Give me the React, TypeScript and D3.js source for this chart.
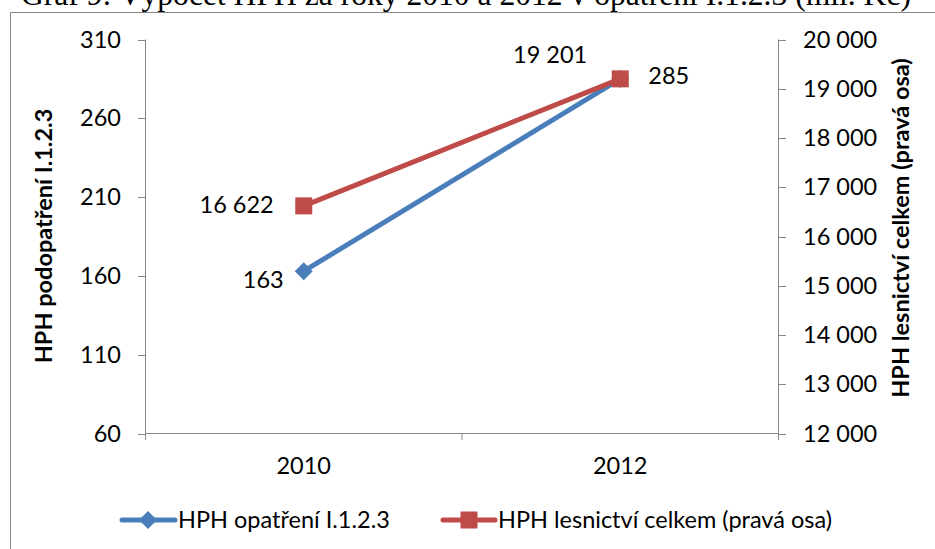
import React from "react";
import * as d3 from "d3";

const categories = ["2010", "2012"];
const seriesLeftName = "HPH opatření I.1.2.3";
const seriesRightName = "HPH lesnictví celkem (pravá osa)";
const leftValues = [163, 285];
const rightValues = [16622, 19201];
const leftTicks = [60, 110, 160, 210, 260, 310];
const rightTicks = [12000, 13000, 14000, 15000, 16000, 17000, 18000, 19000, 20000];
const title = "Graf 9: Výpočet HPH za roky 2010 a 2012 v opatření I.1.2.3 (mil. Kč)";
const leftAxisTitle = "HPH podopatření I.1.2.3";
const rightAxisTitle = "HPH lesnictví celkem (pravá osa)";

const W = 935;
const H = 549;
const FONT = "Lato, 'Open Sans', sans-serif";
const FS = 23.5;
const AXIS = "#868686";
const BLUE = "#4a7ebb";
const RED = "#be4b48";

const fmt = (v: number) => {
  const s = Math.round(v).toString();
  return s.replace(/\B(?=(\d{3})+(?!\d))/g, " ");
};

export default function App() {
  const x = d3.scaleBand<string>().domain(categories).range([145.5, 778.5]);
  const cx = (c: string) => (x(c) as number) + x.bandwidth() / 2;
  const yL = d3.scaleLinear().domain([60, 310]).range([433.5, 39.5]);
  const yR = d3.scaleLinear().domain([12000, 20000]).range([433.5, 39.5]);

  const lineL = d3
    .line<number>()
    .x((_, i) => cx(categories[i]))
    .y((d) => yL(d));
  const lineR = d3
    .line<number>()
    .x((_, i) => cx(categories[i]))
    .y((d) => yR(d));

  const xTicks = [145.5, ...categories.map((c) => (x(c) as number) + x.bandwidth())];

  const diamond = (px: number, py: number, r: number) =>
    `M${px},${py - r}L${px + r},${py}L${px},${py + r}L${px - r},${py}Z`;

  const leftLabelOffsets = [
    { dx: -20, dy: 17, anchor: "end" },
    { dx: 28, dy: 5, anchor: "start" },
  ];
  const rightLabelOffsets = [
    { dx: -30, dy: 7, anchor: "end" },
    { dx: -33, dy: -16, anchor: "end" },
  ];

  return (
    <svg
      width={W}
      height={H}
      style={{ position: "absolute", left: 0, top: 0, background: "#fff" }}
      fontFamily={FONT}
    >
      <rect x={0} y={0} width={W} height={H} fill="#fff" />
      <text x={21} y={5} fontFamily="'Liberation Serif', 'Times New Roman', serif" fontSize={31.6} fill="#000">
        {title}
      </text>
      <path d={`M10.5,${H + 5}V12.5H${W + 5}`} fill="none" stroke={AXIS} strokeWidth={1} />

      <line x1={145.5} x2={145.5} y1={yL(310)} y2={yL(60)} stroke={AXIS} />
      {leftTicks.map((t) => (
        <g key={"l" + t}>
          <line x1={138} x2={145.5} y1={Math.round(yL(t)) + 0.5} y2={Math.round(yL(t)) + 0.5} stroke={AXIS} />
          <text x={121} y={yL(t) + 8} textAnchor="end" fontSize={FS} fill="#000">
            {t}
          </text>
        </g>
      ))}
      <line x1={778.5} x2={778.5} y1={yR(20000)} y2={yR(12000)} stroke={AXIS} />
      {rightTicks.map((t) => (
        <g key={"r" + t}>
          <line x1={778.5} x2={786} y1={Math.round(yR(t)) + 0.5} y2={Math.round(yR(t)) + 0.5} stroke={AXIS} />
          <text x={803} y={yR(t) + 8} textAnchor="start" fontSize={FS} fill="#000">
            {fmt(t)}
          </text>
        </g>
      ))}
      <line x1={145.5} x2={778.5} y1={433.5} y2={433.5} stroke={AXIS} />
      {xTicks.map((t, i) => (
        <line key={"xt" + i} x1={t} x2={t} y1={433.5} y2={440} stroke={AXIS} />
      ))}
      {categories.map((c) => (
        <text key={c} x={cx(c)} y={474} textAnchor="middle" fontSize={FS} fill="#000">
          {c}
        </text>
      ))}

      <text
        transform={`translate(52,236) rotate(-90)`}
        textAnchor="middle"
        fontSize={FS}
        fontWeight="bold"
        fill="#000"
      >
        {leftAxisTitle}
      </text>
      <text
        transform={`translate(909,228) rotate(-90)`}
        textAnchor="middle"
        fontSize={FS}
        fontWeight="bold"
        fill="#000"
      >
        {rightAxisTitle}
      </text>

      <path d={lineL(leftValues) || ""} fill="none" stroke={BLUE} strokeWidth={5} strokeLinejoin="round" />
      <path d={lineR(rightValues) || ""} fill="none" stroke={RED} strokeWidth={5} strokeLinejoin="round" />
      {leftValues.map((v, i) => (
        <path key={"dm" + i} d={diamond(cx(categories[i]), yL(v), 9)} fill={BLUE} />
      ))}
      {rightValues.map((v, i) => (
        <rect key={"sq" + i} x={cx(categories[i]) - 8.5} y={yR(v) - 8.5} width={17} height={17} fill={RED} />
      ))}
      {leftValues.map((v, i) => (
        <text
          key={"ll" + i}
          x={cx(categories[i]) + leftLabelOffsets[i].dx}
          y={yL(v) + leftLabelOffsets[i].dy}
          textAnchor={leftLabelOffsets[i].anchor as any}
          fontSize={FS}
          fill="#000"
        >
          {fmt(v)}
        </text>
      ))}
      {rightValues.map((v, i) => (
        <text
          key={"rl" + i}
          x={cx(categories[i]) + rightLabelOffsets[i].dx}
          y={yR(v) + rightLabelOffsets[i].dy}
          textAnchor={rightLabelOffsets[i].anchor as any}
          fontSize={FS}
          fill="#000"
        >
          {fmt(v)}
        </text>
      ))}

      <g>
        <line x1={122} x2={175} y1={520} y2={520} stroke={BLUE} strokeWidth={5} strokeLinecap="round" />
        <path d={diamond(148, 520, 9)} fill={BLUE} />
        <text x={178} y={528} fontSize={FS} fill="#000">
          {seriesLeftName}
        </text>
        <line x1={443} x2={495} y1={520} y2={520} stroke={RED} strokeWidth={5} strokeLinecap="round" />
        <rect x={469 - 8.5} y={520 - 8.5} width={17} height={17} fill={RED} />
        <text x={498} y={528} fontSize={FS} fill="#000">
          {seriesRightName}
        </text>
      </g>
    </svg>
  );
}
